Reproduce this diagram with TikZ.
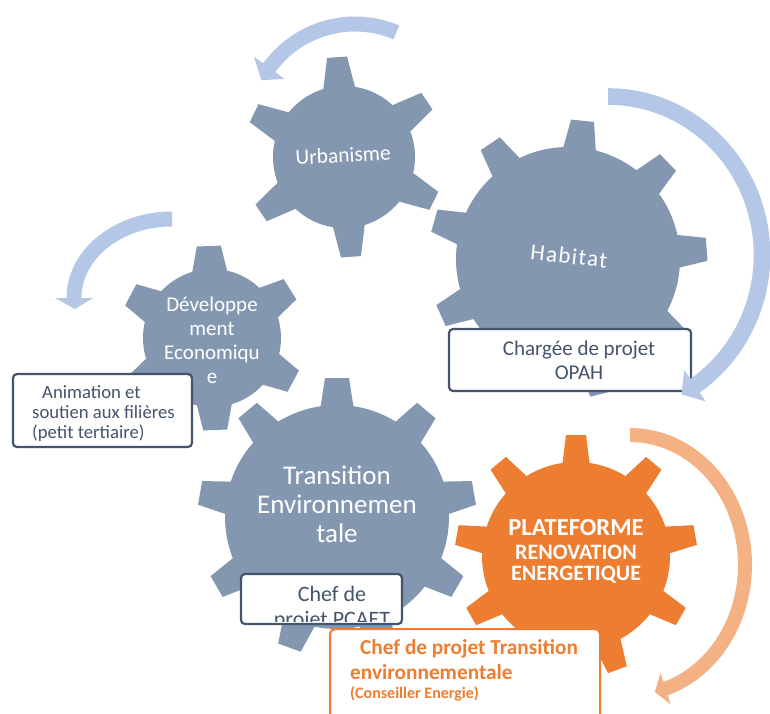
\documentclass[tikz,border=0pt]{standalone}
\usepackage{fontspec}
\setmainfont{Carlito}
\usetikzlibrary{calc}
\definecolor{gearblue}{HTML}{8497B0}
\definecolor{arrowblue}{HTML}{B4C7E7}
\definecolor{orangemain}{HTML}{ED7D31}
\definecolor{orangelight}{HTML}{F4B183}
\definecolor{slate}{HTML}{44546A}

% curved block arrow: cx, cy, rx, ry, start angle, head-base angle, tip angle, half band, half head
\newcommand{\arcarrow}[9]{%
  \pgfmathsetmacro\aXo{#3+#8}\pgfmathsetmacro\aYo{#4+#8}%
  \pgfmathsetmacro\aXi{#3-#8}\pgfmathsetmacro\aYi{#4-#8}%
  \pgfmathsetmacro\aXho{#3+#9}\pgfmathsetmacro\aYho{#4+#9}%
  \pgfmathsetmacro\aXhi{#3-#9}\pgfmathsetmacro\aYhi{#4-#9}%
  \fill ($(#1,#2)+(#5:\aXo pt and \aYo pt)$)
    arc[start angle=#5, end angle=#6, x radius=\aXo pt, y radius=\aYo pt]
    -- ($(#1,#2)+(#6:\aXho pt and \aYho pt)$)
    -- ($(#1,#2)+(#7:#3pt and #4pt)$)
    -- ($(#1,#2)+(#6:\aXhi pt and \aYhi pt)$)
    -- ($(#1,#2)+(#6:\aXi pt and \aYi pt)$)
    arc[start angle=#6, end angle=#5, x radius=\aXi pt, y radius=\aYi pt]
    -- cycle;
}

% gear: cx, cy, body radius, outer radius, teeth, offset angle, tip half width, base half width, colour
\newcommand{\gearshape}[9]{%
  \fill[#9] (#1,#2) circle[radius=#3pt];
  \foreach \k in {1,...,#5}{%
    \fill[#9, shift={(#1,#2)}, rotate={#6+360/#5*\k}]
      ({#3-5},{-#8}) -- (#4,{-#7}) -- (#4,#7) -- ({#3-5},#8) -- cycle;
  }%
}

\begin{document}
\begin{tikzpicture}[x=1pt,y=1pt,
  gtext/.style={text=white, align=center, inner sep=0pt},
  slatebox/.style={draw=slate, line width=2.2pt, fill=white, rounded corners=4pt, inner sep=0pt},
  orangebox/.style={draw=orangemain, line width=2pt, fill=white, rounded corners=5pt, inner sep=0pt},
  boxtext/.style={text=slate, align=center, inner sep=0pt}]
\path[use as bounding box, fill=white] (0,0) rectangle (770,-713);

% background arrows
\begin{scope}[fill=arrowblue]
  \arcarrow{355}{-130}{106}{106}{67}{144}{152}{7.5}{19}
  \arcarrow{172}{-298}{98}{79}{90}{180}{188}{7.5}{19}
\end{scope}

% gears
\gearshape{344}{-157}{71}{100}{6}{94}{10}{16.5}{gearblue}
\gearshape{568}{-259}{112}{139}{9}{4}{11.5}{17}{gearblue}
\gearshape{212}{-338}{69}{92}{6}{92}{12}{18}{gearblue}
\gearshape{337}{-517}{112}{139}{9}{90}{12}{17}{gearblue}
\gearshape{576}{-556}{94}{121}{9}{90}{10}{14}{orangemain}

% gear labels
\node[gtext, font=\fontsize{21.5}{25}\selectfont, rotate=3] (urb) at (343,-155) {Urbanisme};
\node[gtext, font=\fontsize{23}{27}\selectfont\addfontfeatures{LetterSpace=6}, rotate=-6] (hab) at (569,-256) {Habitat};
\node[gtext, font=\fontsize{21}{24}\selectfont] (dev) at (212,-340) {Développe\\ment\\Economiqu\\e};
\node[gtext, font=\fontsize{27}{29}\selectfont] (trans) at (337,-504) {Transition\\Environnemen\\tale};
\node[gtext, font=\bfseries\fontsize{22}{22}\selectfont] (pf) at (576,-551)
  {{\fontsize{24.5}{22}\selectfont PLATEFORME}\\[2pt]RENOVATION\\[-1pt]ENERGETIQUE};

% boxes
\node[slatebox, minimum width=179pt, minimum height=73pt] (animbox) at (102.5,-410.5) {};
\node[boxtext, align=left, anchor=west, font=\fontsize{18.7}{20}\selectfont] (anim) at (32,-414)
  {\hspace*{10pt}Animation et\\soutien aux filières\\(petit tertiaire)};

\node[slatebox, minimum width=242pt, minimum height=62pt] (opahbox) at (570,-360) {};
\node[boxtext, font=\fontsize{21}{24}\selectfont] (opah) at (579,-360) {Chargée de projet\\OPAH};

\node[slatebox, minimum width=161pt, minimum height=50pt] (pcaetbox) at (321.5,-599) {};
\begin{scope}
  \clip (242,-575) rectangle (401,-621);
  \node[boxtext, font=\fontsize{22}{25}\selectfont] (pcaet) at (332,-608) {Chef de\\projet PCAET};
\end{scope}

\node[orangebox, minimum width=270pt, minimum height=100pt, anchor=north west] (tebox) at (329,-628) {};
\node[align=left, anchor=north west, inner sep=0pt, text=orangemain, font=\bfseries\fontsize{21.3}{25}\selectfont] (te) at (350,-639)
  {\hspace*{10pt}Chef de projet Transition\\environnementale\\[-6pt]\fontsize{16}{17}\selectfont(Conseiller Energie)};

% foreground arrows
\begin{scope}[fill=arrowblue]
  \arcarrow{608}{-255}{154}{158.5}{90}{-55.6}{-61.5}{8.3}{19}
\end{scope}
\begin{scope}[fill=orangelight]
  \arcarrow{630}{-565}{115}{130}{90}{-72}{-77.5}{7}{16.5}
\end{scope}
\end{tikzpicture}
\end{document}
